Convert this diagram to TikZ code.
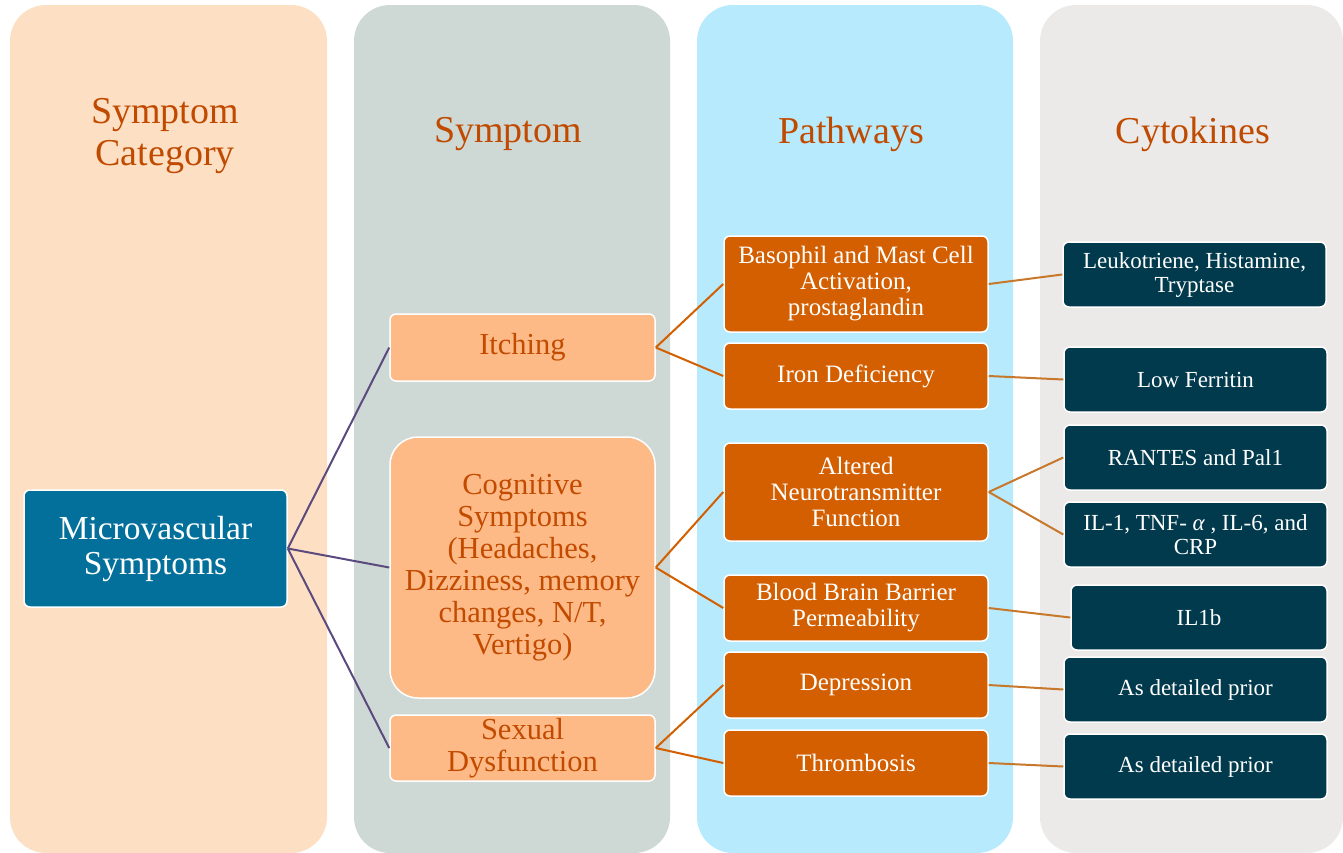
\documentclass[tikz,border=0pt]{standalone}
\usepackage{fontspec}
\setmainfont{Liberation Serif}
\definecolor{panelA}{HTML}{FDDFC4}
\definecolor{panelB}{HTML}{CED8D5}
\definecolor{panelC}{HTML}{B6EAFC}
\definecolor{panelD}{HTML}{EBEAE8}
\definecolor{titletext}{HTML}{C04A00}
\definecolor{microfill}{HTML}{02709A}
\definecolor{symfill}{HTML}{FDBA87}
\definecolor{symtext}{HTML}{C24B00}
\definecolor{pathfill}{HTML}{D35F00}
\definecolor{cytofill}{HTML}{003A4C}
\definecolor{purpleline}{HTML}{5B4A7E}
\definecolor{orangeline}{HTML}{D35F00}
\definecolor{goldline}{HTML}{C7782A}
\begin{document}
\begin{tikzpicture}[x=1pt,y=-1pt,
  panel/.style={rounded corners=36pt},
  heading/.style={text=titletext, align=center, font=\fontsize{38}{42}\selectfont},
  basebox/.style={rectangle, draw=white, line width=1.5pt, rounded corners=6pt, align=center, inner sep=2pt},
  microbox/.style={basebox, fill=microfill, text=white, font=\fontsize{33.5}{35}\selectfont},
  symbox/.style={basebox, fill=symfill, text=symtext, font=\fontsize{30.5}{32}\selectfont},
  pathbox/.style={basebox, fill=pathfill, text=white, font=\fontsize{25}{26}\selectfont, minimum width=264pt},
  cytobox/.style={basebox, fill=cytofill, text=white, font=\fontsize{23}{24}\selectfont, minimum height=65pt},
  purplelink/.style={draw=purpleline, line width=2pt},
  orangelink/.style={draw=orangeline, line width=2pt},
  goldlink/.style={draw=goldline, line width=2pt}]
\useasboundingbox (0,0) rectangle (1343,852);

% column backgrounds
\fill[panelA, panel] (10,5) rectangle (327,853);
\fill[panelB, panel] (354,5) rectangle (670,853);
\fill[panelC, panel] (697,5) rectangle (1013,853);
\fill[panelD, panel] (1040,5) rectangle (1343,853);

% column headings
\node[heading] (h1) at (165,136) {Symptom\\Category};
\node[heading] (h2) at (508,134) {Symptom};
\node[heading] (h3) at (851,134) {Pathways};
\node[heading] (h4) at (1193,134) {Cytokines};

% symptom category
\node[microbox, minimum width=263pt, minimum height=117pt] (micro) at (155.5,548.5) {Microvascular\\Symptoms};

% symptoms
\node[symbox, minimum width=265pt, minimum height=67pt] (itch) at (522.5,347.5) {Itching};
\node[symbox, minimum width=265pt, minimum height=261pt, rounded corners=28pt] (cog) at (522.5,567.5)
  {Cognitive\\Symptoms\\(Headaches,\\Dizziness, memory\\changes, N/T,\\Vertigo)};
\node[symbox, minimum width=265pt, minimum height=66pt] (sex) at (522.5,748) {Sexual\\Dysfunction};

% pathways
\node[pathbox, minimum height=96pt] (baso) at (856,284) {Basophil and Mast Cell\\Activation,\\prostaglandin};
\node[pathbox, minimum height=66pt] (iron) at (856,376) {Iron Deficiency};
\node[pathbox, minimum height=98pt] (neuro) at (856,492) {Altered\\Neurotransmitter\\Function};
\node[pathbox, minimum height=66pt] (bbb) at (856,608) {Blood Brain Barrier\\Permeability};
\node[pathbox, minimum height=66pt] (dep) at (856,685) {Depression};
\node[pathbox, minimum height=66pt] (thromb) at (856,763) {Thrombosis};

% cytokines
\node[cytobox, minimum width=263pt] (leuko) at (1194.5,274.5) {Leukotriene, Histamine,\\Tryptase};
\node[cytobox, minimum width=263pt] (ferr) at (1195.5,379.5) {Low Ferritin};
\node[cytobox, minimum width=263pt] (rantes) at (1195.5,457.5) {RANTES and Pal1};
\node[cytobox, minimum width=263pt] (il) at (1195.5,534.5) {IL-1, TNF- {\itshape α} , IL-6, and\\CRP};
\node[cytobox, minimum width=256pt] (ilb) at (1199,617.5) {IL1b};
\node[cytobox, minimum width=263pt] (prior1) at (1195.5,689.5) {As detailed prior};
\node[cytobox, minimum width=263pt] (prior2) at (1195.5,766.5) {As detailed prior};

% category to symptoms
\draw[purplelink] (micro.east) -- (itch.west);
\draw[purplelink] (micro.east) -- (cog.west);
\draw[purplelink] (micro.east) -- (sex.west);

% symptoms to pathways
\draw[orangelink] (itch.east) -- (baso.west);
\draw[orangelink] (itch.east) -- (iron.west);
\draw[orangelink] (cog.east) -- (neuro.west);
\draw[orangelink] (cog.east) -- (bbb.west);
\draw[orangelink] (sex.east) -- (dep.west);
\draw[orangelink] (sex.east) -- (thromb.west);

% pathways to cytokines
\draw[goldlink] (baso.east) -- (leuko.west);
\draw[goldlink] (iron.east) -- (ferr.west);
\draw[goldlink] (neuro.east) -- (rantes.west);
\draw[goldlink] (neuro.east) -- (il.west);
\draw[goldlink] (bbb.east) -- (ilb.west);
\draw[goldlink] (dep.east) -- (prior1.west);
\draw[goldlink] (thromb.east) -- (prior2.west);
\end{tikzpicture}
\end{document}
